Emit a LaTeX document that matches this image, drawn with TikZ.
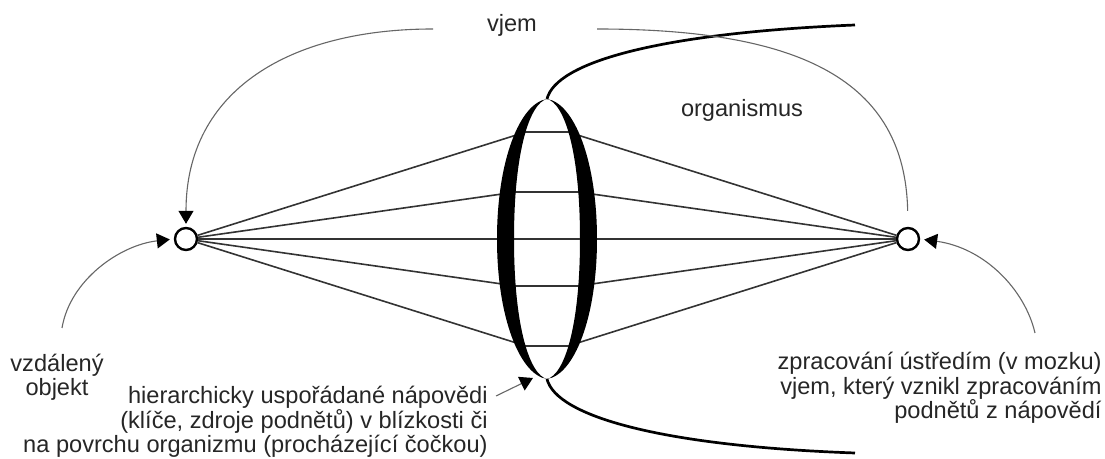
\documentclass[tikz,border=0pt]{standalone}
\usepackage{fontspec}
\setmainfont{Liberation Sans}
\usetikzlibrary{arrows.meta, positioning}

\begin{document}
\begin{tikzpicture}[
  x=0.5pt, y=-0.5pt,
  oko/.style={circle, draw, line width=1.2pt, minimum size=11pt, inner sep=0pt, fill=white},
  paprsek/.style={line width=0.8pt, draw=black!80},
  oblouk/.style={line width=0.55pt, draw=black!60},
  sipka/.style={oblouk, -{Triangle[length=6.5pt, width=7.5pt, color=black]}},
  telo/.style={line width=1.35pt},
  popis/.style={font=\fontsize{11.8}{12.2}\selectfont, text=black!85, inner sep=0pt}
]
  \useasboundingbox (0,0) rectangle (1105,459);

  % objekt, cocka, ustredi
  \node[oko] (obj) at (186,239) {};
  \node[oko] (cen) at (908,239) {};
  \begin{scope}[shift={(547,239)}]
    \coordinate (ltop) at (0,-140);
    \coordinate (lbot) at (0,140);
    \foreach \i/\y/\w in {1/-107/21, 2/-47/31, 3/0/33, 4/47/31, 5/107/21} {
      \coordinate (iL\i) at (-\w,\y);
      \coordinate (iR\i) at (\w,\y);
    }
  \end{scope}

  \foreach \i in {1,...,5} {
    \draw[paprsek] (obj) -- (iL\i);
    \draw[paprsek] (iR\i) -- (cen);
    \draw[paprsek] (iL\i) -- (iR\i);
  }

  \begin{scope}[shift={(547,239)}]
    \fill (0,-140) .. controls (-27,-136) and (-50,-79) .. (-50,0)
      .. controls (-50,79) and (-27,136) .. (0,140)
      .. controls (-17,136) and (-33,89) .. (-33,0)
      .. controls (-33,-89) and (-17,-136) .. cycle;
    \fill (0,-140) .. controls (27,-136) and (50,-79) .. (50,0)
      .. controls (50,79) and (27,136) .. (0,140)
      .. controls (17,136) and (33,89) .. (33,0)
      .. controls (33,-89) and (17,-136) .. cycle;
  \end{scope}

  % hranice organismu
  \coordinate (orgT) at (855,25);
  \coordinate (orgB) at (855,453);
  \draw[telo] (ltop) .. controls (556,62) and (660,33) .. (orgT);
  \draw[telo] (lbot) .. controls (556,416) and (660,446) .. (orgB);

  % popisky
  \node[popis, anchor=base] (vjem) at (512,32) {vjem};
  \node[popis, anchor=base] (org) at (742,117) {organismus};
  \node[popis, align=center] (vzd) at (57,377) {vzdálený\\objekt};
  \node[popis, align=right, anchor=east] (hier) at (488,422)
    {hierarchicky uspořádané nápovědi\\(klíče, zdroje podnětů) v blízkosti či\\na povrchu organizmu (procházející čočkou)};
  \node[popis, align=right, anchor=east] (zprac) at (1102,388)
    {zpracování ústředím (v mozku)\\vjem, který vznikl zpracováním\\podnětů z nápovědí};

  % sipky
  \coordinate (vjL) at (433,29);
  \coordinate (vjR) at (597,29);
  \coordinate (vzdA) at (62,328);
  \coordinate (zprA) at (1035,333);
  \coordinate (hierA) at (496,396);
  \coordinate (hierB) at (533,378);
  \draw[sipka, shorten >=1.5pt] (vjL) .. controls (290,29) and (186,90) .. (obj.north);
  \draw[oblouk, shorten >=8pt] (vjR) .. controls (800,29) and (905,80) .. (cen.north);
  \draw[sipka, shorten >=2pt] (vzdA) .. controls (70,280) and (120,245) .. (obj.west);
  \draw[sipka, shorten >=2pt] (zprA) .. controls (1025,290) and (985,248) .. (cen.east);
  \draw[sipka] (hierA) -- (hierB);
\end{tikzpicture}
\end{document}
